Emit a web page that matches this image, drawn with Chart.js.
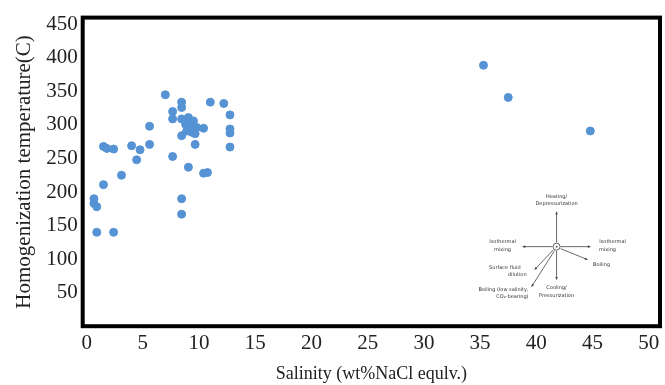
<!DOCTYPE html>
<html lang="en">
<head>
  <meta charset="UTF-8">
  <title>Salinity vs homogenization temperature</title>
  <script src="https://cdn.jsdelivr.net/npm/chart.js"></script>
  <style>
    html, body { margin: 0; padding: 0; background: #fff; }
    #wrap { width: 665px; height: 385px; }
  </style>
</head>
<body>
  <div id="wrap"><canvas id="chart"></canvas></div>

  <script>
    // salinity (wt% NaCl equiv.) and homogenization temperature (C)
    const salinity = [
      7.0, 8.45, 8.45, 11.0, 12.2, 12.75, 7.65, 7.65, 8.45, 9.05,
      9.5, 8.8, 9.2, 9.8, 10.4, 8.9, 9.35, 8.45, 9.65, 12.75,
      12.75, 12.75, 9.65, 7.65, 5.6, 5.6, 1.5, 1.8, 2.4, 4.0,
      4.75, 4.45, 3.1, 1.5, 0.65, 0.65, 0.9, 0.9, 2.4, 8.45,
      8.45, 9.05, 10.4, 10.75, 35.3, 37.5, 44.8
    ];
    const temperature = [
      345, 334, 326, 334, 332, 315, 320, 309, 309, 311,
      306, 301, 299, 296, 295, 291, 289, 284, 287, 294,
      288, 267, 271, 253, 298, 271, 268, 265, 264, 269,
      263, 248, 225, 211, 190, 183, 178, 140, 140, 190,
      167, 237, 228, 229, 389, 341, 291
    ];
    const xTicks = [0, 5, 10, 15, 20, 25, 30, 35, 40, 45, 50];
    const yTicks = [50, 100, 150, 200, 250, 300, 350, 400, 450];

    // where the small trend sketch sits, in data units
    const insetCenter = { x: 41.8, y: 118.6 };

    const points = salinity.map((s, i) => ({ x: s, y: temperature[i] }));

    // heavy black frame round the plot
    const framePlugin = {
      id: 'frame',
      afterDraw(chart) {
        const a = chart.chartArea;
        const c = chart.ctx;
        c.save();
        c.strokeStyle = '#000';
        c.lineWidth = 4;
        c.strokeRect(a.left, a.top, a.right - a.left, a.bottom - a.top);
        c.restore();
      }
    };

    function arrow(c, x1, y1, x2, y2) {
      c.beginPath();
      c.moveTo(x1, y1);
      c.lineTo(x2, y2);
      c.stroke();
      const ang = Math.atan2(y2 - y1, x2 - x1);
      c.beginPath();
      c.moveTo(x2, y2);
      c.lineTo(x2 - 3 * Math.cos(ang - 0.45), y2 - 3 * Math.sin(ang - 0.45));
      c.lineTo(x2 - 3 * Math.cos(ang + 0.45), y2 - 3 * Math.sin(ang + 0.45));
      c.closePath();
      c.fill();
    }

    const insetPlugin = {
      id: 'inset',
      afterDatasetsDraw(chart) {
        const c = chart.ctx;
        const cx = chart.scales.x.getPixelForValue(insetCenter.x);
        const cy = chart.scales.y.getPixelForValue(insetCenter.y);
        c.save();
        c.strokeStyle = '#444';
        c.fillStyle = '#444';
        c.lineWidth = 0.8;
        arrow(c, cx, cy - 4, cx, cy - 35);
        arrow(c, cx - 4, cy, cx - 34, cy);
        arrow(c, cx + 4, cy, cx + 34, cy);
        arrow(c, cx + 4, cy + 2, cx + 31, cy + 13);
        arrow(c, cx, cy + 4, cx, cy + 33);
        arrow(c, cx - 3, cy + 3, cx - 22, cy + 23);
        arrow(c, cx - 2, cy + 4, cx - 25, cy + 40);
        c.beginPath();
        c.arc(cx, cy, 3.5, 0, Math.PI * 2);
        c.fillStyle = '#fff';
        c.fill();
        c.stroke();
        c.beginPath();
        c.fillStyle = '#444';
        c.arc(cx, cy, 0.9, 0, Math.PI * 2);
        c.fill();

        c.fillStyle = '#333';
        c.font = '5px "DejaVu Sans"';
        c.textBaseline = 'middle';
        c.textAlign = 'center';
        c.fillText('Heating/', cx, cy - 50);
        c.fillText('Depressurization', cx, cy - 43);
        c.fillText('Cooling/', cx, cy + 41);
        c.fillText('Pressurization', cx, cy + 49);
        c.fillText('Isothermal', cx - 54, cy - 5);
        c.fillText('mixing', cx - 54, cy + 3);
        c.fillText('Isothermal', cx + 56, cy - 5);
        c.fillText('mixing', cx + 51, cy + 3);
        c.fillText('Boiling', cx + 45, cy + 18);
        c.textAlign = 'right';
        c.fillText('Surface fluid', cx - 36, cy + 21);
        c.fillText('dilution', cx - 30, cy + 28);
        c.fillText('Boiling (low salinity,', cx - 28, cy + 43);
        c.fillText('CO\u2082-bearing)', cx - 28, cy + 50);
        c.restore();
      }
    };

    new Chart(document.getElementById('chart'), {
      type: 'scatter',
      data: {
        datasets: [{
          data: points,
          backgroundColor: '#5593d4',
          borderColor: '#5593d4',
          pointRadius: 4,
          pointHoverRadius: 4
        }]
      },
      options: {
        responsive: true,
        maintainAspectRatio: false,
        animation: false,
        layout: { padding: { left: 12, right: 3, top: 17, bottom: 0 } },
        plugins: { legend: { display: false }, tooltip: { enabled: false } },
        scales: {
          x: {
            type: 'linear',
            min: -0.35,
            max: 51,
            afterBuildTicks: s => { s.ticks = xTicks.map(v => ({ value: v })); },
            grid: { display: false, drawTicks: false },
            border: { display: false },
            ticks: {
              padding: 5,
              color: '#222',
              font: { family: '"Liberation Serif"', size: 21 }
            },
            title: {
              display: true,
              text: 'Salinity (wt%NaCl equlv.)',
              color: '#222',
              font: { family: '"Liberation Serif"', size: 18 },
              padding: { top: 2, bottom: 0 }
            }
          },
          y: {
            type: 'linear',
            min: 0,
            max: 460,
            afterBuildTicks: s => { s.ticks = yTicks.map(v => ({ value: v })); },
            grid: { display: false, drawTicks: false },
            border: { display: false },
            ticks: {
              padding: 5,
              color: '#222',
              font: { family: '"Liberation Serif"', size: 21 }
            },
            title: {
              display: true,
              text: 'Homogenization temperature(C)',
              color: '#222',
              font: { family: '"Liberation Serif"', size: 21 },
              padding: { top: 0, bottom: 4 }
            }
          }
        }
      },
      plugins: [framePlugin, insetPlugin]
    });
  </script>
</body>
</html>
